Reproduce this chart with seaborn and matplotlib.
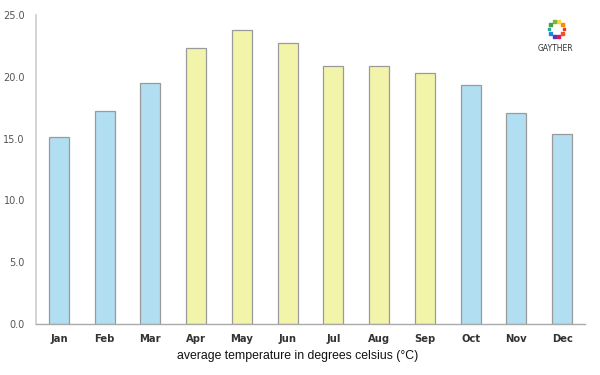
import matplotlib
matplotlib.use("Agg")
import matplotlib.pyplot as plt
import seaborn as sns
import pandas as pd
import numpy as np

months = ["Jan", "Feb", "Mar", "Apr", "May", "Jun", "Jul", "Aug", "Sep", "Oct", "Nov", "Dec"]
temps = [15.1, 17.2, 19.5, 22.3, 23.8, 22.7, 20.9, 20.9, 20.3, 19.3, 17.1, 15.4]
season = ["cool", "cool", "cool", "warm", "warm", "warm", "warm", "warm", "warm", "cool", "cool", "cool"]
yticks = [0, 5, 10, 15, 20, 25]

sns.set_theme(style="white")
plt.rcParams['font.family'] = ['DejaVu Sans']

df = pd.DataFrame({"month": months, "temp": temps, "season": season})
palette = {"cool": "#B1DEF0", "warm": "#F2F5A9"}

fig = plt.figure(figsize=(6, 3.75), dpi=100)
ax = fig.add_axes([0.06, 0.136, 0.915, 0.824])
sns.barplot(data=df, x="month", y="temp", hue="season", palette=palette,
            dodge=False, width=0.44, edgecolor="#9a9a9a", linewidth=0.9,
            saturation=1, legend=False, ax=ax)
ax.set_xlim(-0.5, 11.5)
ax.set_ylim(0, 25)
ax.set_yticks(yticks)
ax.set_yticklabels([f"{v:.1f}" for v in yticks], color="#555555", fontsize=7)
ax.tick_params(axis="x", labelsize=7.2, colors="#333333", length=0, pad=7)
ax.tick_params(axis="y", length=0, pad=8)
for lbl in ax.get_xticklabels():
    lbl.set_fontweight("bold")
ax.set_ylabel("")
ax.set_xlabel("average temperature in degrees celsius (°C)", fontsize=8.8,
              color="#111111", family=["Liberation Sans", "DejaVu Sans"])
ax.xaxis.set_label_coords(0.477, -0.085)
for s in ["top", "right"]:
    ax.spines[s].set_visible(False)
ax.spines["left"].set_color("#cccccc")
ax.spines["left"].set_linewidth(1.2)
ax.spines["bottom"].set_color("#aaaaaa")
ax.spines["bottom"].set_linewidth(1)

# logo
lax = fig.add_axes([0.905, 0.885, 0.045, 0.075])
lax.set_axis_off()
ang = np.linspace(0, 2 * np.pi, 10, endpoint=False)
cols = ["#e53935", "#fb8c00", "#fdd835", "#7cb342", "#43a047", "#26a69a", "#1e88e5", "#5e35b1", "#d81b60", "#f4511e"]
lax.scatter(np.cos(ang), np.sin(ang), s=4, c=cols, marker="s")
lax.set_xlim(-1.8, 1.8)
lax.set_ylim(-1.8, 1.8)
fig.text(0.925, 0.87, "GAYTHER", fontsize=5.5, color="#333333", ha="center", va="center")

fig.savefig("out.png", dpi=100)
